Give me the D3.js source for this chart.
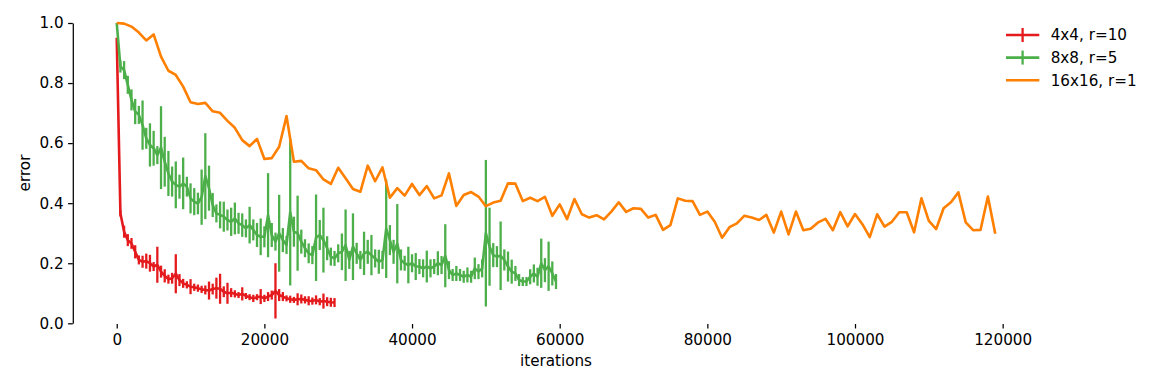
<!DOCTYPE html>
<html>
<head>
<meta charset="utf-8">
<script src="https://cdn.jsdelivr.net/npm/d3@7"></script>
<style>
  body { margin: 0; background: #fff; }
  svg text { font-family: "DejaVu Sans", sans-serif; }
</style>
</head>
<body>
<svg id="chart" width="1163" height="388"></svg>
<script>
// series labels and colours
const labels = ["4x4, r=10", "8x8, r=5", "16x16, r=1"];
const colors = ["#e41a1c", "#4daf4a", "#ff7f00"];

// iteration spacing of each series
const stepRed = 500;
const stepGreen = 500;
const stepOrange = 1000;

// mean error
const redMean = [0.951, 0.366, 0.305, 0.277, 0.266, 0.238, 0.211, 0.205, 0.207, 0.200,
  0.189, 0.195, 0.172, 0.158, 0.147, 0.150, 0.165, 0.144, 0.133, 0.128,
  0.122, 0.120, 0.117, 0.113, 0.111, 0.109, 0.114, 0.117, 0.115, 0.105,
  0.100, 0.102, 0.098, 0.094, 0.098, 0.091, 0.087, 0.083, 0.087, 0.089,
  0.083, 0.089, 0.094, 0.108, 0.094, 0.089, 0.083, 0.080, 0.078, 0.080,
  0.081, 0.078, 0.075, 0.074, 0.078, 0.072, 0.074, 0.072, 0.070, 0.069];
const redErr = [0, 0.010, 0.020, 0.020, 0.018, 0.022, 0.015, 0.020, 0.025, 0.028,
  0.015, 0.060, 0.020, 0.022, 0.015, 0.018, 0.065, 0.020, 0.015, 0.012,
  0.025, 0.012, 0.012, 0.012, 0.015, 0.030, 0.018, 0.035, 0.050, 0.018,
  0.035, 0.015, 0.012, 0.010, 0.022, 0.010, 0.010, 0.012, 0.010, 0.025,
  0.012, 0.015, 0.015, 0.092, 0.020, 0.015, 0.010, 0.012, 0.010, 0.020,
  0.015, 0.012, 0.015, 0.012, 0.015, 0.012, 0.025, 0.015, 0.015, 0.015];

const greenMean = [1.000, 0.855, 0.843, 0.794, 0.744, 0.705, 0.694, 0.660, 0.616, 0.594,
  0.583, 0.560, 0.585, 0.538, 0.499, 0.472, 0.461, 0.455, 0.466, 0.455,
  0.416, 0.405, 0.399, 0.420, 0.490, 0.450, 0.394, 0.366, 0.361, 0.355,
  0.344, 0.338, 0.349, 0.333, 0.327, 0.316, 0.327, 0.311, 0.294, 0.288,
  0.288, 0.360, 0.294, 0.272, 0.300, 0.277, 0.261, 0.370, 0.305, 0.300,
  0.272, 0.250, 0.233, 0.227, 0.285, 0.294, 0.277, 0.250, 0.222, 0.216,
  0.233, 0.238, 0.260, 0.211, 0.255, 0.233, 0.211, 0.233, 0.238, 0.227,
  0.216, 0.205, 0.211, 0.315, 0.277, 0.238, 0.265, 0.211, 0.200, 0.194,
  0.200, 0.189, 0.189, 0.183, 0.189, 0.183, 0.189, 0.200, 0.194, 0.225,
  0.177, 0.161, 0.166, 0.161, 0.155, 0.161, 0.155, 0.183, 0.172, 0.183,
  0.300, 0.255, 0.227, 0.222, 0.225, 0.211, 0.189, 0.172, 0.166, 0.144,
  0.139, 0.139, 0.155, 0.166, 0.155, 0.200, 0.177, 0.190, 0.166, 0.139];
const greenErr = [0, 0.020, 0.030, 0.030, 0.035, 0.042, 0.030, 0.082, 0.035, 0.072,
  0.058, 0.030, 0.138, 0.083, 0.075, 0.050, 0.078, 0.040, 0.086, 0.033,
  0.050, 0.045, 0.036, 0.092, 0.143, 0.075, 0.040, 0.030, 0.045, 0.050,
  0.035, 0.047, 0.053, 0.035, 0.039, 0.030, 0.061, 0.035, 0.040, 0.061,
  0.035, 0.140, 0.040, 0.030, 0.128, 0.040, 0.030, 0.244, 0.050, 0.125,
  0.040, 0.030, 0.033, 0.030, 0.144, 0.050, 0.108, 0.040, 0.030, 0.025,
  0.030, 0.061, 0.119, 0.030, 0.111, 0.035, 0.030, 0.072, 0.040, 0.067,
  0.030, 0.040, 0.030, 0.164, 0.050, 0.040, 0.132, 0.035, 0.025, 0.061,
  0.030, 0.045, 0.025, 0.030, 0.053, 0.030, 0.025, 0.040, 0.030, 0.105,
  0.030, 0.020, 0.025, 0.020, 0.020, 0.025, 0.020, 0.036, 0.025, 0.030,
  0.244, 0.130, 0.040, 0.035, 0.114, 0.035, 0.050, 0.040, 0.025, 0.020,
  0.015, 0.015, 0.025, 0.030, 0.030, 0.082, 0.040, 0.082, 0.040, 0.025];

const orangeMean = [1.000, 0.998, 0.988, 0.968, 0.942, 0.962, 0.888, 0.841, 0.827, 0.788,
  0.736, 0.730, 0.734, 0.706, 0.701, 0.674, 0.651, 0.610, 0.590, 0.614,
  0.547, 0.550, 0.588, 0.690, 0.538, 0.541, 0.516, 0.510, 0.479, 0.464,
  0.518, 0.483, 0.447, 0.438, 0.525, 0.473, 0.519, 0.418, 0.450, 0.425,
  0.464, 0.427, 0.457, 0.416, 0.426, 0.499, 0.391, 0.427, 0.437, 0.422,
  0.390, 0.402, 0.408, 0.466, 0.465, 0.407, 0.418, 0.407, 0.421, 0.358,
  0.396, 0.347, 0.414, 0.363, 0.352, 0.360, 0.346, 0.372, 0.403, 0.371,
  0.383, 0.381, 0.352, 0.361, 0.311, 0.327, 0.416, 0.408, 0.407, 0.361,
  0.372, 0.338, 0.285, 0.320, 0.333, 0.358, 0.352, 0.344, 0.361, 0.302,
  0.372, 0.296, 0.372, 0.310, 0.315, 0.336, 0.348, 0.310, 0.370, 0.323,
  0.364, 0.330, 0.287, 0.363, 0.322, 0.338, 0.370, 0.370, 0.303, 0.416,
  0.341, 0.314, 0.383, 0.403, 0.436, 0.336, 0.310, 0.311, 0.422, 0.298];

// axis ticks
const xTicks = [0, 20000, 40000, 60000, 80000, 100000, 120000];
const yTicks = [0, 0.2, 0.4, 0.6, 0.8, 1.0];

const fontSize = 15.2;

const toPoints = (mean, err, step) => mean.map((v, i) => ({ it: i * step, v: v, e: err ? err[i] : 0 }));

const series = [
  { name: labels[0], color: colors[0], bars: true, pts: toPoints(redMean, redErr, stepRed) },
  { name: labels[1], color: colors[1], bars: true, pts: toPoints(greenMean, greenErr, stepGreen) },
  { name: labels[2], color: colors[2], bars: false, pts: toPoints(orangeMean, null, stepOrange) }
];

const svg = d3.select("#chart");

// matplotlib style 5% margins around 0..119000
const x = d3.scaleLinear().domain([-5950, 124950]).range([72.8, 1039.2]);
const y = d3.scaleLinear().domain([0, 1]).range([323.3, 23]);

// y axis with its spine
const yAxis = svg.append("g")
  .attr("transform", "translate(72.8,0)")
  .call(d3.axisLeft(y).tickValues(yTicks).tickFormat(d3.format(".1f")).tickSize(4.7).tickSizeOuter(0).tickPadding(4.5));
yAxis.select(".domain").attr("stroke", "#000").attr("stroke-width", 1.25);
yAxis.selectAll(".tick line").attr("stroke", "#000").attr("stroke-width", 1.25);
yAxis.selectAll("text").attr("font-size", fontSize).attr("fill", "#000");

// x axis: ticks only, no spine
const xAxis = svg.append("g")
  .attr("transform", "translate(0,324)")
  .call(d3.axisBottom(x).tickValues(xTicks).tickFormat(d3.format("d")).tickSize(4.5).tickPadding(6.2));
xAxis.select(".domain").remove();
xAxis.selectAll(".tick line").attr("stroke", "#000").attr("stroke-width", 1.25);
xAxis.selectAll("text").attr("font-size", fontSize).attr("fill", "#000");

svg.append("text")
  .attr("x", 556).attr("y", 366)
  .attr("text-anchor", "middle")
  .attr("font-size", fontSize)
  .text("iterations");

svg.append("text")
  .attr("transform", "translate(30,173) rotate(-90)")
  .attr("text-anchor", "middle")
  .attr("font-size", fontSize)
  .text("error");

const line = d3.line().x(d => x(d.it)).y(d => y(d.v));

series.forEach(s => {
  const g = svg.append("g");
  if (s.bars) {
    g.selectAll("line")
      .data(s.pts.filter(d => d.e > 0))
      .join("line")
      .attr("x1", d => x(d.it)).attr("x2", d => x(d.it))
      .attr("y1", d => y(d.v - d.e)).attr("y2", d => y(d.v + d.e))
      .attr("stroke", s.color)
      .attr("stroke-width", 2.3);
  }
  g.append("path")
    .datum(s.pts)
    .attr("d", line)
    .attr("fill", "none")
    .attr("stroke", s.color)
    .attr("stroke-width", 2.6)
    .attr("stroke-linejoin", "round");
});

// legend
const legend = svg.append("g").attr("transform", "translate(1006,35)");
const rows = legend.selectAll("g")
  .data(series)
  .join("g")
  .attr("transform", (d, i) => `translate(0,${i * 22.6})`);

rows.append("line")
  .attr("x1", 0).attr("x2", 33.3).attr("y1", 0).attr("y2", 0)
  .attr("stroke", d => d.color)
  .attr("stroke-width", 2.6);

rows.filter(d => d.bars).append("line")
  .attr("x1", 16.6).attr("x2", 16.6).attr("y1", -7).attr("y2", 7)
  .attr("stroke", d => d.color)
  .attr("stroke-width", 2.3);

rows.append("text")
  .attr("x", 44.7).attr("y", 0).attr("dy", "0.35em")
  .attr("font-size", fontSize)
  .text(d => d.name);
</script>
</body>
</html>
